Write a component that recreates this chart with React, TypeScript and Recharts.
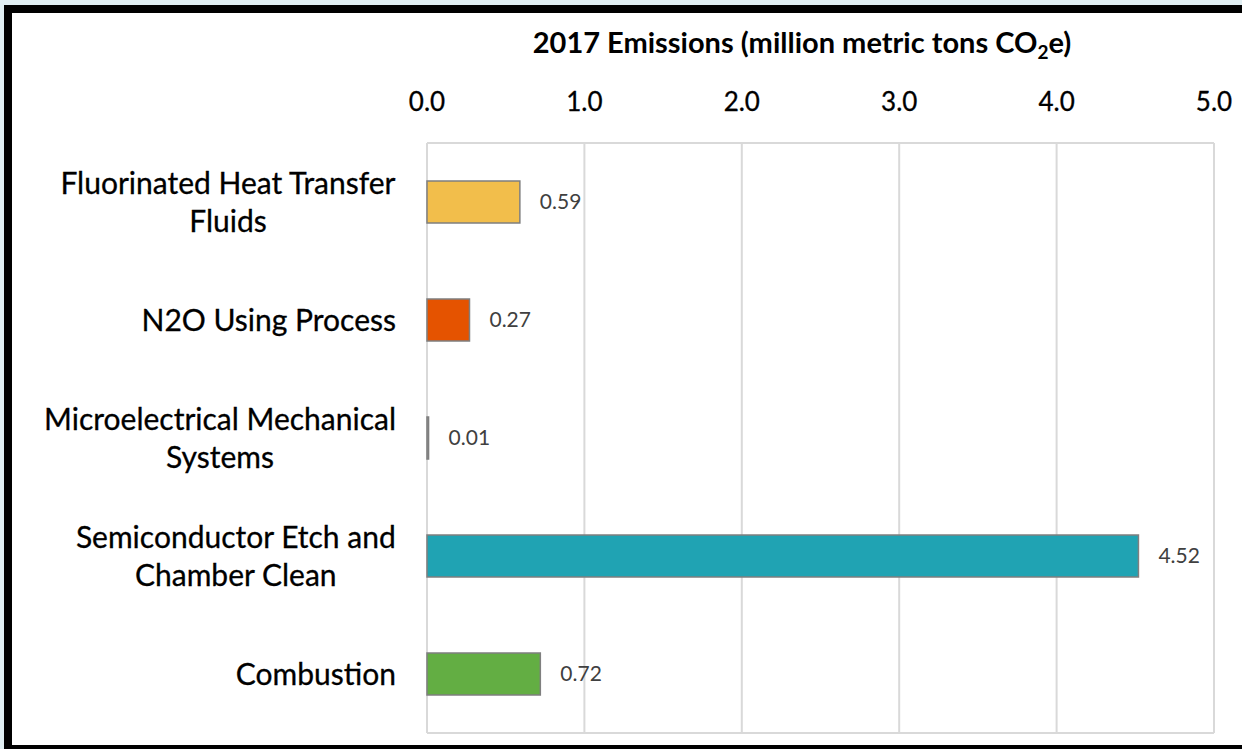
import React from "react";
import { BarChart, Bar, XAxis, YAxis, CartesianGrid, Cell, LabelList } from "recharts";

const categories = [
  "Fluorinated Heat Transfer\nFluids",
  "N2O Using Process",
  "Microelectrical Mechanical\nSystems",
  "Semiconductor Etch and\nChamber Clean",
  "Combustion",
];
const values = [0.59, 0.27, 0.01, 4.52, 0.72];
const barColors = ["#F2BE4B", "#E55300", "#BFBFBF", "#20A3B3", "#63AE43"];
const xTicks = [0, 1, 2, 3, 4, 5];

const data = categories.map((name, i) => ({ name, value: values[i] }));

const CAT_FONT = "Lato";
const CAT_SIZE = 30;
const LINE_H = 38;

let ctx: CanvasRenderingContext2D | null = null;
function measure(text: string, font: string): number {
  if (!ctx) {
    const c = document.createElement("canvas");
    ctx = c.getContext("2d");
  }
  if (!ctx) return text.length * 14;
  ctx.font = font;
  return ctx.measureText(text).width;
}

const CategoryTick = (props: any) => {
  const { x, y, payload } = props;
  const lines: string[] = String(payload.value).split("\n");
  const font = `${CAT_SIZE}px ${CAT_FONT}`;
  const maxW = Math.max(...lines.map((l) => measure(l, font)));
  const cx = x - maxW / 2;
  const startY = y - ((lines.length - 1) * LINE_H) / 2;
  return (
    <g>
      {lines.map((l, i) => (
        <text
          key={i}
          x={cx}
          y={startY + i * LINE_H}
          dy="0.36em"
          textAnchor="middle"
          fontFamily={CAT_FONT}
          fontSize={CAT_SIZE}
          fill="#000"
          stroke="#000"
          strokeWidth={0.3}
        >
          {l}
        </text>
      ))}
    </g>
  );
};

export default function App() {
  return (
    <div style={{ position: "absolute", left: 0, top: 0, width: 1242, height: 749, background: "#E0EEF2", overflow: "hidden" }}>
      <div style={{ position: "absolute", left: 4, top: 5, width: 1238, height: 744, background: "#000" }} />
      <div style={{ position: "absolute", left: 12, top: 13, width: 1230, height: 732, background: "#fff" }} />
      <div
        style={{
          position: "absolute",
          left: 0,
          top: 23,
          width: 1604,
          textAlign: "center",
          fontFamily: "Lato",
          fontWeight: 700,
          fontSize: 29,
          color: "#000",
          lineHeight: "38px",
        }}
      >
        2017 Emissions (million metric tons CO<sub style={{ fontSize: 19, verticalAlign: "-6px", lineHeight: 0 }}>2</sub>e)
      </div>
      <div style={{ position: "absolute", left: 0, top: 0 }}>
        <BarChart
          width={1242}
          height={749}
          data={data}
          layout="vertical"
          margin={{ top: 103, right: 28, bottom: 16, left: 0 }}
          barSize={42}
        >
          <CartesianGrid
            stroke="#D9D9D9"
            strokeWidth={2}
            horizontalCoordinatesGenerator={({ offset }: any) => [offset.top, offset.top + offset.height]}
          />
          <XAxis
            type="number"
            orientation="top"
            domain={[0, 5]}
            ticks={xTicks}
            tickFormatter={(v: number) => v.toFixed(1)}
            axisLine={false}
            tickLine={false}
            tickSize={0}
            tickMargin={32}
            height={40}
            tick={{ fontFamily: "Lato", fontSize: 26, fill: "#000", stroke: "#000", strokeWidth: 0.3 }}
            interval={0}
          />
          <YAxis
            type="category"
            dataKey="name"
            width={427}
            axisLine={false}
            tickLine={false}
            tickSize={0}
            tickMargin={31}
            tick={<CategoryTick />}
            interval={0}
          />
          <Bar dataKey="value" isAnimationActive={false} stroke="#7F7F7F" strokeWidth={1.5}>
            {data.map((d, i) => (
              <Cell key={d.name} fill={barColors[i]} />
            ))}
            <LabelList
              dataKey="value"
              position="right"
              offset={20}
              formatter={(v: any) => Number(v).toFixed(2)}
              style={{ fontFamily: "Lato", fontSize: 21, fill: "#404040" }}
            />
          </Bar>
        </BarChart>
      </div>
    </div>
  );
}
